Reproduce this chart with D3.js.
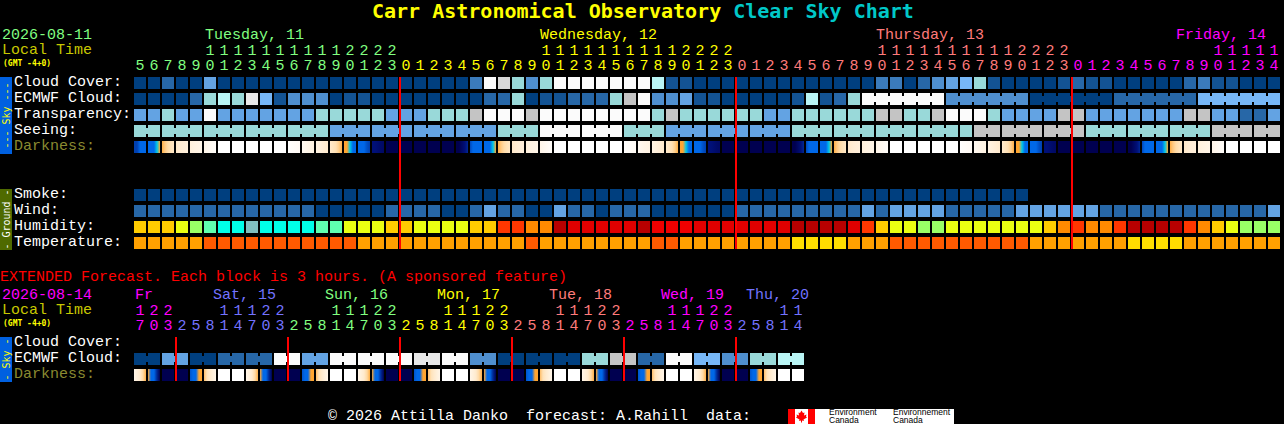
<!DOCTYPE html>
<html><head><meta charset="utf-8">
<style>html,body{margin:0;padding:0;background:#000;overflow:hidden}svg{display:block}text{white-space:pre}</style>
<script src="https://cdn.jsdelivr.net/npm/d3@7/dist/d3.min.js"></script>
</head><body><div id="chart"></div>
<script>
// ---- data ----
const hours = [5,6,7,8,9,10,11,12,13,14,15,16,17,18,19,20,21,22,23,
 0,1,2,3,4,5,6,7,8,9,10,11,12,13,14,15,16,17,18,19,20,21,22,23,
 0,1,2,3,4,5,6,7,8,9,10,11,12,13,14,15,16,17,18,19,20,21,22,23,
 0,1,2,3,4,5,6,7,8,9,10,11,12,13,14];
const dayNames = ["Tuesday, 11","Wednesday, 12","Thursday, 13","Friday, 14"];
const dayFirstCol = [0,19,43,67];
const dayLabelCol = [5.07,29,53,74.43];
const dayColors = ["#80ff80","#ffff00","#ff7b7b","#ff00ff"];
const midnightCols = [19,43,67];

// sky levels: index into skyPalette
const cloudCover = [0,0,2,0,0,5,0,0,0,0,0,0,0,0,0,0,0,0,0,0,0,0,0,0,3,12,10,7,4,7,12,12,12,12,12,12,12,8,1,1,0,0,0,0,0,0,0,0,0,0,0,0,
 0,3,3,0,2,4,5,6,7,1,0,0,0,0,1,2,1,1,0,0,0,0,0,2,3,1,1,0,0,0];
const ecmwfCloud = [0,0,0,0,2,7,8,7,11,6,1,4,4,4,0,1,1,0,0,0,0,0,0,0,0,2,2,7,0,1,1,2,2,2,7,9,12,4,4,5,1,1,0,0,0,0,0,1,8,1,2,7,
 12,12,12,12,12,12,4,4,4,4,4,4,0,0,0,0,0,0,2,2,2,2,2,2,6,6,6,6,6,6];
const transparency = [5,5,7,5,5,12,5,5,5,5,5,5,5,7,7,7,7,7,5,5,5,7,7,7,9,12,12,12,9,12,12,12,12,12,12,12,12,7,9,7,7,7,7,7,7,5,5,7,7,7,7,7,
 7,9,9,7,7,9,12,12,12,7,5,5,5,5,9,9,5,5,5,5,5,5,5,9,9,5,5,2,2,5];
const seeing = [7,7,7,7,7,7,7,7,7,7,7,7,7,7,5,5,5,5,5,5,5,5,5,5,5,5,7,7,7,12,12,12,12,12,12,7,7,7,5,5,5,5,5,5,5,5,5,7,7,7,7,7,
 7,7,7,7,7,7,7,7,9,9,9,9,9,9,9,9,7,7,7,7,7,7,7,7,7,9,9,9,9,9];
const smoke = [0,0,0,0,0,0,0,0,0,0,0,0,0,0,0,0,0,0,0,0,0,0,0,0,0,0,0,0,0,0,0,0,0,0,0,0,0,0,0,0,0,0,0,0,0,0,0,0,0,0,0,0,0,0,0,0,0,0,0,0,0,0,0,0];
const wind = [2,2,2,2,2,2,2,2,2,2,2,2,2,0,0,0,0,0,2,2,2,2,0,0,2,5,2,2,0,0,5,2,2,0,2,2,2,0,0,0,0,0,0,2,2,2,2,2,2,2,2,2,
 5,2,5,5,5,5,2,2,2,2,2,5,5,5,5,5,5,2,2,2,2,2,2,2,2,2,2,2,2,5];
const humidity = ["a","a","a","y","g","m","c","c","t","c","c","c","c","m","m","y","y","y","a","a","y","y","y","y","a","a","o","o","n","n","D","r","r","r","r","r","D","R","R","R","r","r","r","r","r","r","r","D","D","D","D","r",
 "o","a","y","y","g","g","y","y","y","y","y","y","y","a","n","o","n","n","o","D","D","D","D","o","n","a","y","g","g","g"];
const temperature = ["O","O","O","O","O","F","F","F","F","F","F","F","F","F","F","F","O","O","O","O","O","O","O","O","O","O","O","O","F","O","O","O","O","O","O","O","O","F","F","O","O","O","O","O","O","O","O","Y","Y","Y","Y","O",
 "O","O","F","F","F","F","F","F","F","F","F","F","O","O","O","O","O","O","O","Y","Y","Y","Y","O","O","O","O","O","O","O"];
// darkness: five samples across each block
const darkness = [
[6,6,5,5,5],[5,5,5,4.4,4],[3.8,3.3,2.9,2.5,2.2],[2.1,1.9,1.7,1.6,1.5],[1.5,1.3,1.2,1.1,1],[1,.8,.6,.4,.3],[0,0,0,0,0],[0,0,0,0,0],[0,0,0,0,0],[0,0,0,0,0],[0,0,0,0,0],
[0,.2,.3,.4,.5],[.6,.8,1,1.1,1.2],[1.2,1.4,1.6,1.8,2],[2,2.3,2.6,3.2,3.8],[4,4,4.4,5,5],[5,5,5,5.6,6],[7,7,7.2,7.4,7.5],[8,8,8,8,8],[8,8,8,8,8],[8,8,8,8,8],[8,8,8,8,8],[8,8,8,8,8],[8,8,7.5,7,6.5],
[5.8,5,5,5,5],[5,5,5,4.4,4],[3.8,3.3,2.9,2.5,2.2],[2.1,1.9,1.7,1.6,1.5],[1.5,1.3,1.2,1.1,1],[1,.8,.6,.4,.3],[0,0,0,0,0],[0,0,0,0,0],[0,0,0,0,0],[0,0,0,0,0],[0,0,0,0,0],
[0,.2,.3,.4,.5],[.6,.8,1,1.1,1.2],[1.2,1.4,1.6,1.8,2],[2,2.3,2.6,3.2,3.8],[4,4,4.4,5,5],[5,5,5,5.6,6],[7,7,7.2,7.4,7.5],[8,8,8,8,8],[8,8,8,8,8],[8,8,8,8,8],[8,8,8,8,8],[8,8,8,8,8],[8,8,7.5,7,6.5],
[5.8,5,5,5,5],[5,5,5,4.4,4],[3.8,3.3,2.9,2.5,2.2],[2.1,1.9,1.7,1.6,1.5],[1.5,1.3,1.2,1.1,1],[1,.8,.6,.4,.3],[0,0,0,0,0],[0,0,0,0,0],[0,0,0,0,0],[0,0,0,0,0],[0,0,0,0,0],
[0,.2,.3,.4,.5],[.6,.8,1,1.1,1.2],[1.2,1.4,1.6,1.8,2],[2,2.3,2.6,3.2,3.8],[4,4,4.4,5,5],[5,5,5,5.6,6],[7,7,7.2,7.4,7.5],[8,8,8,8,8],[8,8,8,8,8],[8,8,8,8,8],[8,8,8,8,8],[8,8,8,8,8],[8,8,7.5,7,6.5],
[5.8,5,5,5,5],[5,5,5,4.4,4],[3.8,3.3,2.9,2.5,2.2],[2.1,1.9,1.7,1.6,1.5],[1.5,1.3,1.2,1.1,1],[1,.8,.6,.4,.3],[0,0,0,0,0],[0,0,0,0,0],[0,0,0,0,0],[0,0,0,0,0]];

const extHours = [17,20,23,2,5,8,11,14,17,20,23,2,5,8,11,14,17,20,23,2,5,8,11,14,17,20,23,2,5,8,11,14,17,20,23,2,5,8,11,14,17,20,23,2,5,8,11,14];
const extDayNames = ["Fr","Sat, 15","Sun, 16","Mon, 17","Tue, 18","Wed, 19","Thu, 20"];
const extDayFirstCol = [0,3,11,19,27,35,43];
const extDayLabelCol = [0.07,5.64,13.64,21.64,29.64,37.64,43.72];
const extDayColors = ["#ff00ff","#7373ff","#80ff80","#ffff00","#ff7b7b","#ff00ff","#7373ff"];
const extMidnightCols = [3,11,19,27,35,43];
const extEcmwf = [0,0,5,5,0,0,2,2,2,2,12,12,5,5,12,12,12,12,12,12,11,11,12,12,4,4,0,0,0,0,0,0,7,7,9,9,2,2,12,12,6,6,4,4,7,7,8,8];
const extDarkness = [
[1,1.5,2,3,3.8],[4,5,5,6.5,8],[8,8,8,8,8],[8,8,8,8,8],[5.5,5,5,4,4],[3.5,2.5,2,1.5,1],[0,0,0,0,0],[0,0,0,0,0],
[1,1.5,2,3,3.8],[4,5,5,6.5,8],[8,8,8,8,8],[8,8,8,8,8],[5.5,5,5,4,4],[3.5,2.5,2,1.5,1],[0,0,0,0,0],[0,0,0,0,0],
[1,1.5,2,3,3.8],[4,5,5,6.5,8],[8,8,8,8,8],[8,8,8,8,8],[5.5,5,5,4,4],[3.5,2.5,2,1.5,1],[0,0,0,0,0],[0,0,0,0,0],
[1,1.5,2,3,3.8],[4,5,5,6.5,8],[8,8,8,8,8],[8,8,8,8,8],[5.5,5,5,4,4],[3.5,2.5,2,1.5,1],[0,0,0,0,0],[0,0,0,0,0],
[1,1.5,2,3,3.8],[4,5,5,6.5,8],[8,8,8,8,8],[8,8,8,8,8],[5.5,5,5,4,4],[3.5,2.5,2,1.5,1],[0,0,0,0,0],[0,0,0,0,0],
[1,1.5,2,3,3.8],[4,5,5,6.5,8],[8,8,8,8,8],[8,8,8,8,8],[5.5,5,5,4,4],[3.5,2.5,2,1.5,1],[0,0,0,0,0],[0,0,0,0,0]];

const rowLabels = ["Cloud Cover:","ECMWF Cloud:","Transparency:","Seeing:","Darkness:"];
const groundLabels = ["Smoke:","Wind:","Humidity:","Temperature:"];
const extRowLabels = ["Cloud Cover:","ECMWF Cloud:","Darkness:"];

// ---- palettes ----
const skyPalette = ["#003f7f","#135393","#2767a7","#3b7bbb","#4f8fcf","#63a3e3","#77b7f7","#99d9d9","#b9f5f5","#c4c4c4","#d8d8d8","#e8e8e8","#fbfbfb"];
const skyColor = i => skyPalette[i];
const humidityColor = d3.scaleOrdinal(["a","y","g","m","c","t","o","n","D","r","R"],
  ["#ffcb00","#eaff12","#99ff66","#5fffb0","#00ffe8","#80bfbf","#ff3700","#ff8a00","#b80000","#e00000","#f00000"]);
const temperatureColor = d3.scaleOrdinal(["O","F","Y"],["#ffa000","#ff5a00","#ffdd00"]);
const darkColor = d3.scaleLinear()
  .domain([0,1,2,3,4,4.4,5,6,7,8])
  .range(["#ffffff","#fff5e8","#ffeacd","#ffd9a3","#ffa530","#00c8e8","#0068e8","#0040b0","#001078","#000050"]);

// ---- layout ----
const W=1284,H=424,MONO="'Liberation Mono',monospace",BOLD="'DejaVu Sans Mono',monospace";
const svg=d3.select("#chart").append("svg").attr("width",W).attr("height",H).attr("viewBox",[0,0,W,H])
  .attr("font-family",MONO).attr("font-size",15);
svg.append("rect").attr("width",W).attr("height",H).attr("fill","#000");
const defs=svg.append("defs");

const x=d3.scaleBand().domain(d3.range(hours.length)).range([134,1280]).paddingInner(1/7);
const xe=d3.scaleBand().domain(d3.range(extHours.length)).range([134,804]).paddingInner(1/7);
const skyY=d3.scalePoint().domain(rowLabels).range([77,141]);
const groundY=d3.scalePoint().domain(groundLabels).range([189,237]);
const extY=d3.scalePoint().domain(extRowLabels).range([337,369]);
const bw=x.bandwidth();

function text(t,px,py,fill,opts={}){
  const s=svg.append("text").attr("x",px).attr("y",py).attr("fill",fill).text(t);
  for(const k in opts) s.attr(k,opts[k]);
  return s;
}
function blocks(name,vals,scale,y,color,connect){
  const g=svg.append("g").attr("class",name);
  g.selectAll("rect.b").data(vals).join("rect").attr("class","b")
    .attr("x",(d,i)=>scale(i)).attr("y",y).attr("width",bw).attr("height",bw)
    .attr("fill",color);
  if(connect){
    g.selectAll("rect.c").data(vals.map((d,i)=>[d,i]).filter(([d,i])=>i<vals.length-1&&vals[i+1]===d&&connect(i)))
      .join("rect").attr("class","c")
      .attr("x",([d,i])=>scale(i)+bw).attr("y",y+3).attr("width",scale.step()-bw).attr("height",bw-6)
      .attr("fill",([d])=>color(d));
  }
}
let gid=0;
function darkBlocks(vals,scale,y){
  const g=svg.append("g").attr("class","darkness");
  vals.forEach((samples,i)=>{
    const id="dk"+(gid++);
    const lg=defs.append("linearGradient").attr("id",id);
    samples.forEach((v,k)=>lg.append("stop").attr("offset",k/(samples.length-1)).attr("stop-color",darkColor(v)));
    g.append("rect").attr("x",scale(i)).attr("y",y).attr("width",bw).attr("height",bw).attr("fill",`url(#${id})`);
  });
}
function colorOf(firsts,colors,i){return colors[d3.bisectRight(firsts,i)-1];}
function hourAxis(scale,hrs,yPos,fmt,firsts,colors){
  const g=svg.append("g").attr("transform",`translate(0,${yPos})`)
    .call(d3.axisTop(scale).tickSize(0).tickPadding(0).offset(0).tickFormat(i=>fmt(hrs[i])));
  g.select(".domain").remove();
  g.attr("font-family",MONO).attr("font-size",15);
  g.selectAll(".tick text").attr("dy",0).attr("fill",i=>colorOf(firsts,colors,i));
}
const tens=h=>h>=10?String(Math.floor(h/10)):"";
const units=h=>String(h%10);

// title
const title=text("",372,18,"#ffff00",{"font-size":20,"font-weight":"bold","font-family":BOLD});
title.append("tspan").text("Carr Astronomical Observatory ");
title.append("tspan").attr("fill","#00c8c8").text("Clear Sky Chart");

// header
text("2026-08-11",2,39,"#80ff80");
text("Local Time",2,54,"#c8c800");
text("(GMT -4+0)",3,65.5,"#ffff00",{"font-size":8,"font-weight":"bold","font-family":BOLD});
dayNames.forEach((n,k)=>text(n,x(0)+dayLabelCol[k]*x.step(),39,dayColors[k]));
hourAxis(x,hours,54.5,tens,dayFirstCol,dayColors);
hourAxis(x,hours,69.5,units,dayFirstCol,dayColors);

// row labels
rowLabels.forEach(l=>text(l,14,skyY(l)+9,l==="Darkness:"?"#8a8a30":"#ffffff"));
groundLabels.forEach(l=>text(l,14,groundY(l)+9,"#ffffff"));

// sky blocks
blocks("cloud",cloudCover,x,skyY("Cloud Cover:"),skyColor);
blocks("ecmwf",ecmwfCloud,x,skyY("ECMWF Cloud:"),skyColor,i=>i>=52&&(i-52)%6!==5);
blocks("transp",transparency,x,skyY("Transparency:"),skyColor);
blocks("seeing",seeing,x,skyY("Seeing:"),skyColor,i=>i%3!==1);
darkBlocks(darkness,x,skyY("Darkness:"));

// ground blocks
blocks("smoke",smoke,x,groundY("Smoke:"),skyColor);
blocks("wind",wind,x,groundY("Wind:"),skyColor);
blocks("hum",humidity,x,groundY("Humidity:"),humidityColor);
blocks("temp",temperature,x,groundY("Temperature:"),temperatureColor);

// midnight lines
svg.append("g").selectAll("rect").data(midnightCols).join("rect")
  .attr("x",d=>x(d)-1).attr("y",skyY("Cloud Cover:")).attr("width",2)
  .attr("height",groundY("Temperature:")+bw-skyY("Cloud Cover:")).attr("fill","#ff0000");

// side bars
function side(y0,y1,fill,label,color){
  svg.append("rect").attr("x",0).attr("y",y0).attr("width",12).attr("height",y1-y0).attr("fill",fill);
  const cy=(y0+y1)/2;
  svg.append("text").attr("transform",`translate(9.5,${cy}) rotate(-90)`).attr("text-anchor","middle")
    .attr("fill",color).attr("font-size",10).attr("font-family",BOLD).text(label);
}
side(77,154,"#0060e0","--- Sky ---","#ffff00");
side(189,250,"#4f6a00","- Ground -","#ffffff");
side(337,382,"#0060e0","- Sky -","#ffff00");

// extended
text("EXTENDED Forecast. Each block is 3 hours. (A sponsored feature)",0,280.5,"#ff0000");
text("2026-08-14",2,299,"#ff00ff");
text("Local Time",2,314,"#c8c800");
text("(GMT -4+0)",3,325.5,"#ffff00",{"font-size":8,"font-weight":"bold","font-family":BOLD});
extDayNames.forEach((n,k)=>text(n,xe(0)+extDayLabelCol[k]*xe.step(),299,extDayColors[k]));
hourAxis(xe,extHours,314.5,tens,extDayFirstCol,extDayColors);
hourAxis(xe,extHours,329.5,units,extDayFirstCol,extDayColors);
extRowLabels.forEach(l=>text(l,14,extY(l)+9,l==="Darkness:"?"#8a8a30":"#ffffff"));
blocks("extecmwf",extEcmwf,xe,extY("ECMWF Cloud:"),skyColor,i=>i%2===0);
darkBlocks(extDarkness,xe,extY("Darkness:"));
svg.append("g").selectAll("rect").data(extMidnightCols).join("rect")
  .attr("x",d=>xe(d)-1).attr("y",extY("Cloud Cover:")).attr("width",2)
  .attr("height",extY("Darkness:")+bw-extY("Cloud Cover:")).attr("fill","#ff0000");

// footer
text("© 2026 Attilla Danko  forecast: A.Rahill  data:",328,420,"#ffffff");
svg.append("rect").attr("x",788).attr("y",409).attr("width",166).attr("height",15).attr("fill","#fff");
svg.append("rect").attr("x",788).attr("y",409).attr("width",7).attr("height",15).attr("fill","#f00");
svg.append("rect").attr("x",808).attr("y",409).attr("width",7).attr("height",15).attr("fill","#f00");
svg.append("path").attr("transform","translate(801.5,416.5)").attr("fill","#f00")
  .attr("d","M0,-6L1.5,-3.5L3,-4L2.5,-1L5,-2L4.5,0L5.5,1L2,3L2.5,4.5L.5,4L.5,6L-.5,6L-.5,4L-2.5,4.5L-2,3L-5.5,1L-4.5,0L-5,-2L-2.5,-1L-3,-4L-1.5,-3.5Z");
[["Environment",829],["Environnement",893]].forEach(([t,px])=>{
  svg.append("text").attr("x",px).attr("y",415).attr("fill","#000").attr("font-size",8.5)
    .attr("font-family","'Liberation Sans',sans-serif").text(t);
  svg.append("text").attr("x",px).attr("y",423).attr("fill","#000").attr("font-size",8.5)
    .attr("font-family","'Liberation Sans',sans-serif").text("Canada");
});
</script></body></html>
